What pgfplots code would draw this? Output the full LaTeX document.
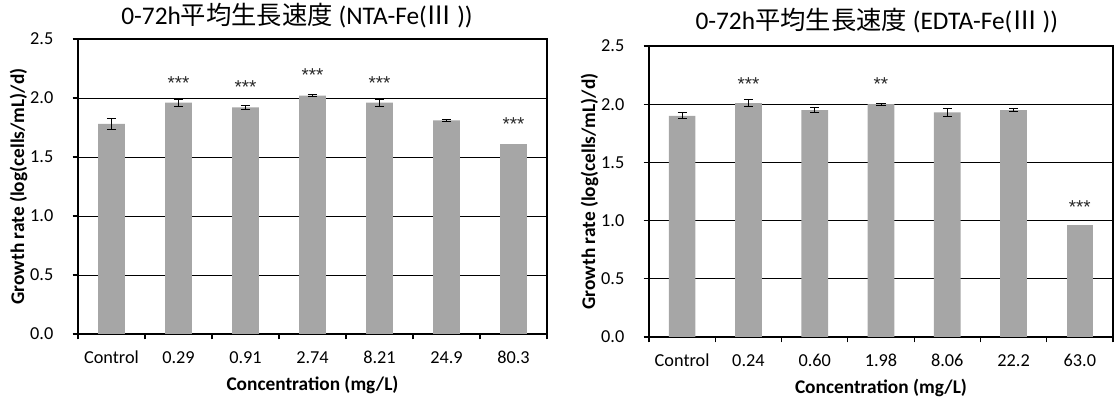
\documentclass[border=0pt]{standalone}
\usepackage{fontspec}
\setmainfont{Carlito}
\newfontfamily\cjk{Noto Sans CJK JP}
\newfontfamily\starfont{Liberation Sans}
\usepackage{pgfplots}
\pgfplotsset{compat=1.18}
\definecolor{barfill}{RGB}{166,166,166}
\pgfplotsset{
  excelbar/.style={
    scale only axis,
    ymin=0, ymax=2.5,
    xmin=0.5, xmax=7.5,
    ytick={0,0.5,1,1.5,2,2.5},
    yticklabel={\pgfmathprintnumber[fixed,fixed zerofill,precision=1]{\tick}},
    /pgf/number format/assume math mode=true,
    ymajorgrids,
    grid style={black, line width=0.6pt},
    axis line style={black, line width=0.9pt},
    tick align=outside,
    tick pos=left,
    major tick length=4pt,
    tick style={black, line width=0.8pt},
    xtick={0.5,1.5,...,7.5},
    xticklabels={},
    extra x ticks={1,2,3,4,5,6,7},
    extra x tick style={major tick length=0pt, grid=none},
    tick label style={font=\fontsize{13.7}{15}\selectfont},
    xticklabel style={anchor=north, text height=1.6ex, text depth=0.3ex, yshift=-11pt},
    yticklabel style={xshift=-11pt},
    label style={font=\fontsize{14.5}{16}\selectfont\bfseries},
    xlabel={Concentration (mg/L)},
    ylabel={Growth rate (log(cells/mL)/d)},
    xlabel style={at={(axis description cs:0.5,0)}, anchor=center, yshift=-38pt},
    ylabel style={at={(axis description cs:0,0.5)}, anchor=center, yshift=44.5pt},
    title style={font=\fontsize{19}{21}\selectfont, anchor=center},
  },
  plainbar/.style={ybar, bar width=20pt, bar shift=0pt, fill=barfill, draw=none},
  barstyle/.style={plainbar,
    error bars/.cd, y dir=both, y explicit,
    error bar style={black, line width=0.7pt},
    error mark options={black, rotate=90, mark size=3.4pt, line width=0.7pt}},
  starstyle/.style={draw=none, mark=none, nodes near coords, point meta=explicit symbolic,
    every node near coord/.append style={anchor=center, font=\starfont\fontsize{14}{15}\selectfont, black!85}},
}
\begin{document}
\begin{tikzpicture}
\useasboundingbox (-58.5pt,-48pt) rectangle (777pt,250.5pt);
\begin{axis}[excelbar,
  at={(0pt,0pt)}, anchor=south west,
  width=351.75pt, height=221.25pt,
  extra x tick labels={Control,0.29,0.91,2.74,8.21,24.9,80.3},
  title={0-72h{\cjk 平均生長速度} (NTA-Fe({\cjk Ⅲ}\kern0.2em))},
  title style={at={(axis description cs:0.467,1)}, yshift=11.5pt},
]
\addplot[barstyle] coordinates {
  (1,1.78) +- (0,0.045)
  (2,1.96) +- (0,0.03)
  (3,1.92) +- (0,0.02)
  (4,2.02) +- (0,0.01)
  (5,1.96) +- (0,0.03)
  (6,1.81) +- (0,0.01)
};
\addplot[plainbar] coordinates {(7,1.61)};
\addplot[starstyle] coordinates {
  (2,2.13) [***]
  (3,2.09) [***]
  (4,2.19) [***]
  (5,2.13) [***]
  (7,1.78) [***]
};
\end{axis}
\begin{axis}[excelbar,
  at={(428.25pt,-2.25pt)}, anchor=south west,
  width=348pt, height=218.25pt,
  extra x tick labels={Control,0.24,0.60,1.98,8.06,22.2,63.0},
  title={0-72h{\cjk 平均生長速度} (EDTA-Fe({\cjk Ⅲ}\kern0.2em))},
  title style={at={(axis description cs:0.491,1)}, yshift=13pt},
]
\addplot[barstyle] coordinates {
  (1,1.90) +- (0,0.025)
  (2,2.01) +- (0,0.03)
  (3,1.95) +- (0,0.025)
  (4,2.00) +- (0,0.01)
  (5,1.93) +- (0,0.035)
  (6,1.95) +- (0,0.01)
};
\addplot[plainbar] coordinates {(7,0.96)};
\addplot[starstyle] coordinates {
  (2,2.17) [***]
  (4,2.17) [**]
  (7,1.12) [***]
};
\end{axis}
\end{tikzpicture}
\end{document}
